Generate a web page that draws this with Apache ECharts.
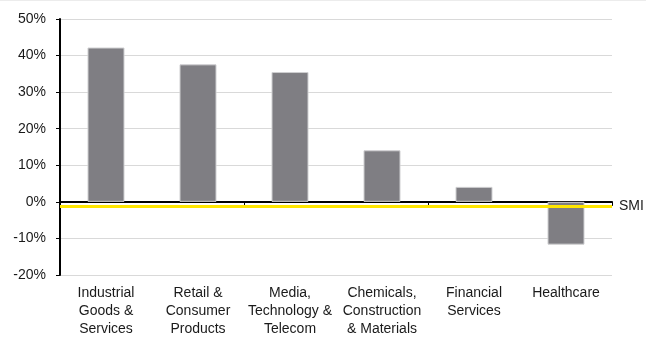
<!DOCTYPE html>
<html>
<head>
<meta charset="utf-8">
<script src="https://cdn.jsdelivr.net/npm/echarts@6/dist/echarts.min.js"></script>
<style>
  html, body { margin: 0; padding: 0; background: #fff; }
  #chart { width: 646px; height: 339px; }
</style>
</head>
<body>
<div id="chart"></div>
<script>
// Sector performance relative to the SMI benchmark
const categories = [
  'Industrial\nGoods &\nServices',
  'Retail &\nConsumer\nProducts',
  'Media,\nTechnology &\nTelecom',
  'Chemicals,\nConstruction\n& Materials',
  'Financial\nServices',
  'Healthcare'
];
const values = [42.2, 37.6, 35.5, 14.1, 4.1, -11.7];
const benchmarkName = 'SMI';
const benchmarkValue = -1.2;
const yTicks = { min: -20, max: 50, interval: 10 };

const font = 'Liberation Sans, Arial, sans-serif';
const chart = echarts.init(document.getElementById('chart'));

chart.setOption({
  animation: false,
  // thin frame line along the top edge
  graphic: [{
    type: 'rect',
    left: 0, top: 0,
    shape: { width: 646, height: 1 },
    style: { fill: '#ececec' },
    silent: true
  }],
  grid: { left: 60, right: 34, top: 19, bottom: 64, containLabel: false },
  xAxis: [
    {
      // category labels along the bottom of the plot
      type: 'category',
      data: categories,
      position: 'bottom',
      axisLine: { show: false, onZero: false },
      axisTick: { show: false },
      axisLabel: {
        interval: 0,
        color: '#1a1a1a',
        fontFamily: font,
        fontSize: 14,
        lineHeight: 18,
        margin: 9
      }
    },
    {
      // zero baseline with category boundary ticks
      type: 'category',
      data: categories,
      position: 'bottom',
      axisLine: { show: true, onZero: true, lineStyle: { color: '#000', width: 2 } },
      axisTick: { show: true, length: 4, lineStyle: { color: '#000', width: 1 } },
      axisLabel: { show: false }
    }
  ],
  yAxis: {
    type: 'value',
    min: yTicks.min,
    max: yTicks.max,
    interval: yTicks.interval,
    axisLine: { show: true, lineStyle: { color: '#000', width: 2 } },
    axisTick: { show: true, length: 4, lineStyle: { color: '#000' } },
    splitLine: { show: true, lineStyle: { color: '#d9d9d9', width: 1 } },
    axisLabel: {
      formatter: v => v + '%',
      color: '#1a1a1a',
      fontFamily: font,
      fontSize: 14,
      margin: 14
    }
  },
  series: [
    {
      type: 'bar',
      xAxisIndex: 0,
      data: values,
      barWidth: 37,
      itemStyle: { color: '#7f7e83', borderColor: '#cfcfd1', borderWidth: 1 },
      markLine: {
        symbol: 'none',
        silent: true,
        lineStyle: { color: '#ffe600', width: 3, type: 'solid' },
        label: {
          show: true,
          position: 'end',
          formatter: benchmarkName,
          color: '#1a1a1a',
          fontFamily: font,
          fontSize: 14,
          distance: 7
        },
        data: [{ yAxis: benchmarkValue }]
      }
    }
  ]
});
</script>
</body>
</html>
